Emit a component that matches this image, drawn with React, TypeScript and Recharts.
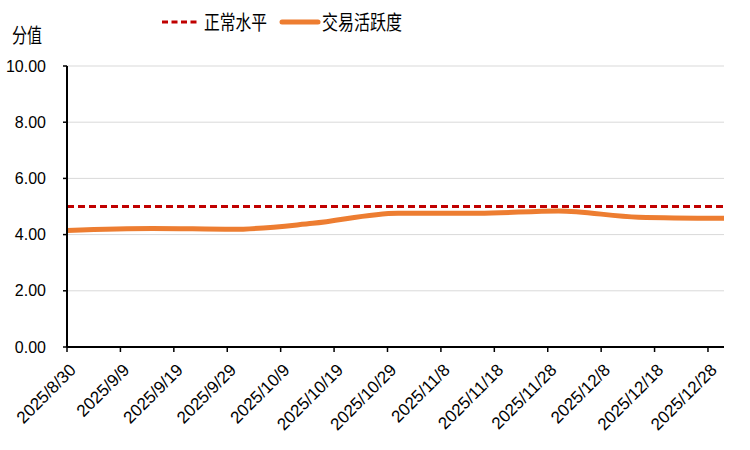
import { LineChart, Line, XAxis, YAxis, CartesianGrid } from 'recharts';

const dates = ['2025/8/30', '2025/9/15', '2025/9/30', '2025/10/15', '2025/10/31', '2025/11/15', '2025/11/30', '2025/12/15', '2025/12/31'];
const activity = [4.15, 4.22, 4.19, 4.4, 4.76, 4.76, 4.84, 4.62, 4.58];
const normal = [5, 5, 5, 5, 5, 5, 5, 5, 5];
const tickLabels = ['2025/8/30', '2025/9/9', '2025/9/19', '2025/9/29', '2025/10/9', '2025/10/19', '2025/10/29', '2025/11/8', '2025/11/18', '2025/11/28', '2025/12/8', '2025/12/18', '2025/12/28'];
const yTicks = [0, 2, 4, 6, 8, 10];
const axisEnd = '2025/12/31';

const toTime = (s: string) => {
  const [y, m, d] = s.split('/').map(Number);
  return Date.UTC(y, m - 1, d);
};

const data = dates.map((d, i) => ({ t: toTime(d), activity: activity[i], normal: normal[i] }));
const xTicks = tickLabels.map(toTime);
const labelOf = (t: number) => {
  const dt = new Date(t);
  return `${dt.getUTCFullYear()}/${dt.getUTCMonth() + 1}/${dt.getUTCDate()}`;
};

const FONT = '"Liberation Sans", Arial, sans-serif';
const CJK = '"Noto Sans CJK SC", sans-serif';

function DateTick({ x, y, payload }: any) {
  return (
    <text
      transform={`translate(${x + 10},${y + 17}) rotate(-45)`}
      textAnchor="end"
      fontSize={17}
      fontFamily={FONT}
      fill="#000"
    >
      {labelOf(payload.value)}
    </text>
  );
}

export default function App() {
  return (
    <div style={{ position: 'absolute', left: 0, top: 0, width: 750, height: 450, background: '#fff' }}>
      <svg style={{ position: 'absolute', left: 0, top: 0 }} width={750} height={50}>
        <text x={12} y={43} fontFamily={CJK} fontSize={20} fill="#000" textLength={30} lengthAdjust="spacingAndGlyphs">分值</text>
        <line x1={162} y1={22} x2={200} y2={22} stroke="#C00000" strokeWidth={3} strokeDasharray="6 3.5" />
        <text x={204} y={30} fontFamily={CJK} fontSize={20} fill="#000" textLength={63} lengthAdjust="spacingAndGlyphs">正常水平</text>
        <line x1={282} y1={22} x2={318} y2={22} stroke="#ED7D31" strokeWidth={5} strokeLinecap="round" />
        <text x={322} y={30} fontFamily={CJK} fontSize={20} fill="#000" textLength={80} lengthAdjust="spacingAndGlyphs">交易活跃度</text>
      </svg>
      <LineChart width={750} height={450} data={data} margin={{ top: 66, right: 26, left: 0, bottom: 0 }}>
        <CartesianGrid horizontal vertical={false} stroke="#D9D9D9" strokeWidth={1} />
        <XAxis
          dataKey="t"
          type="number"
          scale="time"
          domain={[toTime(dates[0]), toTime(axisEnd)]}
          ticks={xTicks}
          tick={<DateTick />}
          tickSize={5}
          tickLine={{ stroke: '#000', strokeWidth: 1.5 }}
          axisLine={{ stroke: '#000', strokeWidth: 2 }}
          height={103}
          interval={0}
          allowDataOverflow
        />
        <YAxis
          type="number"
          domain={[0, 10]}
          ticks={yTicks}
          width={67}
          tickFormatter={(v: number) => v.toFixed(2)}
          tick={{ fontSize: 16, fontFamily: FONT, fill: '#000' }}
          tickSize={4}
          tickMargin={17}
          tickLine={{ stroke: '#000', strokeWidth: 1.5 }}
          axisLine={{ stroke: '#000', strokeWidth: 2 }}
        />
        <Line
          dataKey="normal"
          type="linear"
          stroke="#C00000"
          strokeWidth={3}
          strokeDasharray="7 4"
          dot={false}
          isAnimationActive={false}
        />
        <Line
          dataKey="activity"
          type="monotone"
          stroke="#ED7D31"
          strokeWidth={5}
          strokeLinecap="round"
          dot={false}
          isAnimationActive={false}
        />
      </LineChart>
    </div>
  );
}
